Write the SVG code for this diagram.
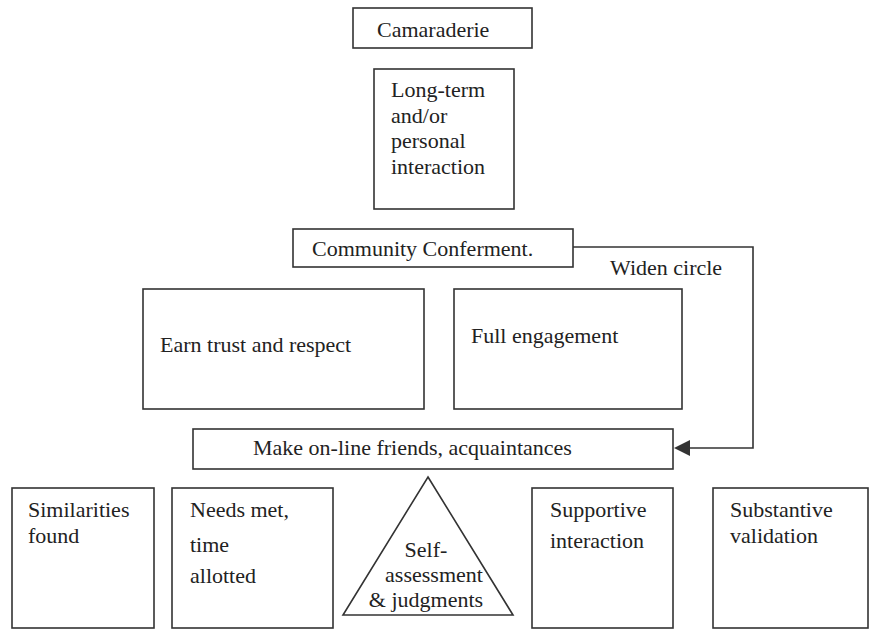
<svg xmlns="http://www.w3.org/2000/svg" width="869" height="630" viewBox="0 0 869 630">
<style>
.box{fill:#fff;stroke:#333;stroke-width:1.6}
.t{font-family:'Liberation Serif','Times New Roman',serif;font-size:22px;fill:#222}
.c{text-anchor:middle}
.conn{fill:none;stroke:#333;stroke-width:1.6}
.ah{fill:#333}
</style>
<rect width="869" height="630" fill="#fff"/>
<g id="connectors">
<polyline class="conn" points="573,247 753,247 753,448 690,448"/>
<path class="ah" d="M690,440 L674,448 L690,456 Z"/>
<text class="t" x="610" y="275">Widen circle</text>
</g>
<g id="camaraderie">
<rect class="box" x="353" y="8" width="179" height="40"/>
<text class="t" x="377" y="37">Camaraderie</text>
</g>
<g id="long-term">
<rect class="box" x="374" y="69" width="140" height="140"/>
<text class="t" x="391" y="97">Long-term</text>
<text class="t" x="391" y="123">and/or</text>
<text class="t" x="391" y="148">personal</text>
<text class="t" x="391" y="174">interaction</text>
</g>
<g id="community">
<rect class="box" x="293" y="229" width="280" height="38"/>
<text class="t" x="312" y="256">Community Conferment.</text>
</g>
<g id="earn">
<rect class="box" x="143" y="289" width="281" height="120"/>
<text class="t" x="160" y="352">Earn trust and respect</text>
</g>
<g id="full">
<rect class="box" x="454" y="289" width="228" height="120"/>
<text class="t" x="471" y="343">Full engagement</text>
</g>
<g id="make">
<rect class="box" x="193" y="429" width="480" height="40"/>
<text class="t" x="253" y="455">Make on-line friends, acquaintances</text>
</g>
<g id="similarities">
<rect class="box" x="12" y="488" width="142" height="140"/>
<text class="t" x="28" y="517">Similarities</text>
<text class="t" x="28" y="543">found</text>
</g>
<g id="needs">
<rect class="box" x="172" y="488" width="161" height="140"/>
<text class="t" x="190" y="517">Needs met,</text>
<text class="t" x="190" y="552">time</text>
<text class="t" x="190" y="583">allotted</text>
</g>
<g id="self">
<polygon class="box" points="428,477 513,615 343,615"/>
<text class="t c" x="426" y="557">Self-</text>
<text class="t c" x="434" y="582">assessment</text>
<text class="t c" x="426" y="607">&amp; judgments</text>
</g>
<g id="supportive">
<rect class="box" x="532" y="488" width="141" height="140"/>
<text class="t" x="550" y="517">Supportive</text>
<text class="t" x="550" y="548">interaction</text>
</g>
<g id="substantive">
<rect class="box" x="713" y="488" width="155" height="140"/>
<text class="t" x="730" y="517">Substantive</text>
<text class="t" x="730" y="543">validation</text>
</g>
</svg>
